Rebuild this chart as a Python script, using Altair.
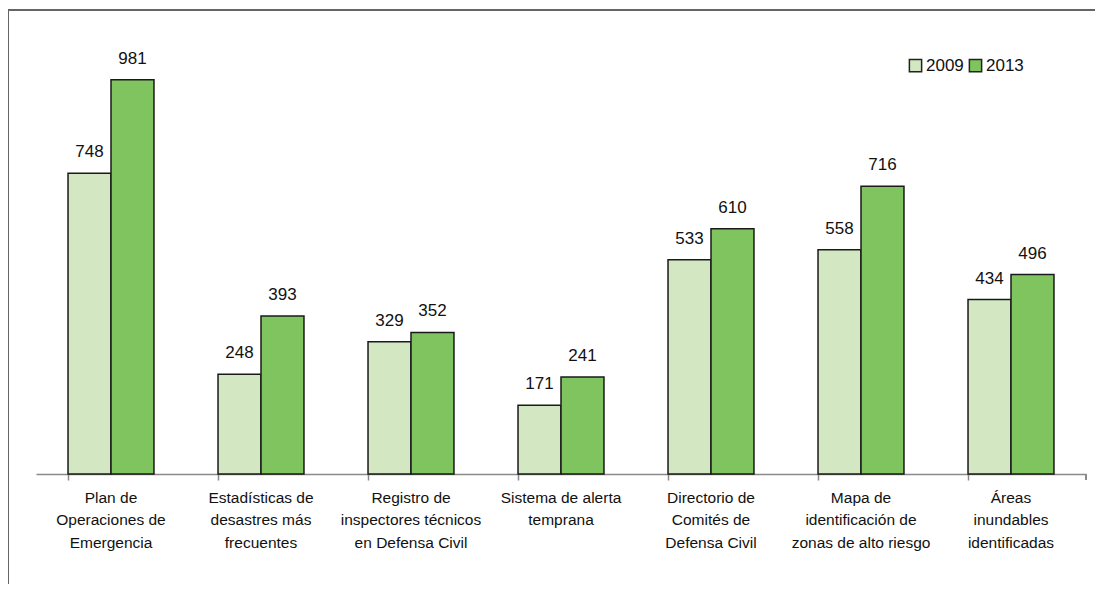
import altair as alt
import pandas as pd

categories = [
    "Plan de|Operaciones de|Emergencia",
    "Estadísticas de|desastres más|frecuentes",
    "Registro de|inspectores técnicos|en Defensa Civil",
    "Sistema de alerta|temprana",
    "Directorio de|Comités de|Defensa Civil",
    "Mapa de|identificación de|zonas de alto riesgo",
    "Áreas|inundables|identificadas",
]
values_2009 = [748, 248, 329, 171, 533, 558, 434]
values_2013 = [981, 393, 352, 241, 610, 716, 496]
years = ["2009", "2013"]
colors = ["#d3e8c2", "#7fc45f"]

rows = []
for c, a, b in zip(categories, values_2009, values_2013):
    rows.append({"cat": c, "year": "2009", "value": a})
    rows.append({"cat": c, "year": "2013", "value": b})
df = pd.DataFrame(rows)

FONT = "Liberation Sans Narrow, Liberation Sans, Arial"

x = alt.X("cat:N", sort=categories, title=None,
          scale=alt.Scale(paddingInner=0.427, paddingOuter=0.2135),
          axis=alt.Axis(labelExpr="split(datum.label, '|')", labelAngle=0,
                        labelFont=FONT, labelFontSize=15.5, labelColor="#111",
                        labelLineHeight=22.5, labelPadding=10, labelLimit=300,
                        domainColor="#8a8a8a", domainWidth=1.5,
                        tickColor="#8a8a8a", tickWidth=1.5, tickSize=6,
                        bandPosition=0, grid=False))
y = alt.Y("value:Q", title=None, scale=alt.Scale(domain=[0, 1000]), axis=None)
xo = alt.XOffset("year:N", scale=alt.Scale(paddingInner=0, paddingOuter=0))

bars = alt.Chart(df).mark_bar(stroke="#1a1a1a", strokeWidth=1.5).encode(
    x=x, y=y, xOffset=xo,
    color=alt.Color("year:N", scale=alt.Scale(domain=years, range=colors),
                    legend=alt.Legend(title=None, orient="none", legendX=871, legendY=-15,
                                      direction="horizontal", symbolType="square",
                                      symbolSize=150, symbolStrokeColor="#222",
                                      symbolStrokeWidth=1.5, labelFont=FONT,
                                      labelFontSize=17, labelColor="#111",
                                      columnPadding=2, labelOffset=2)),
)

labels = alt.Chart(df).mark_text(dy=-21, font=FONT, fontSize=17, color="#111").encode(
    x=x, y=y, xOffset=xo, text="value:Q"
)

end_tick = alt.Chart(df).mark_rule(color="#8a8a8a", strokeWidth=1.5).encode(
    x=alt.value(1050), y=alt.value(402), y2=alt.value(408)
)

frame = alt.Chart(df).mark_rect(fill=None, stroke="#666", strokeWidth=1.5).encode(
    x=alt.value(-28), y=alt.value(-62), x2=alt.value(1200), y2=alt.value(800)
)

chart = alt.layer(frame, bars, labels, end_tick).properties(
    width=1050, height=402,
    autosize=alt.AutoSizeParams(type="none"),
    padding={"left": 28, "top": 64, "right": 9, "bottom": 110},
).configure_view(stroke=None)

chart.save("out.html", embed_options={"renderer": "svg", "actions": False})
